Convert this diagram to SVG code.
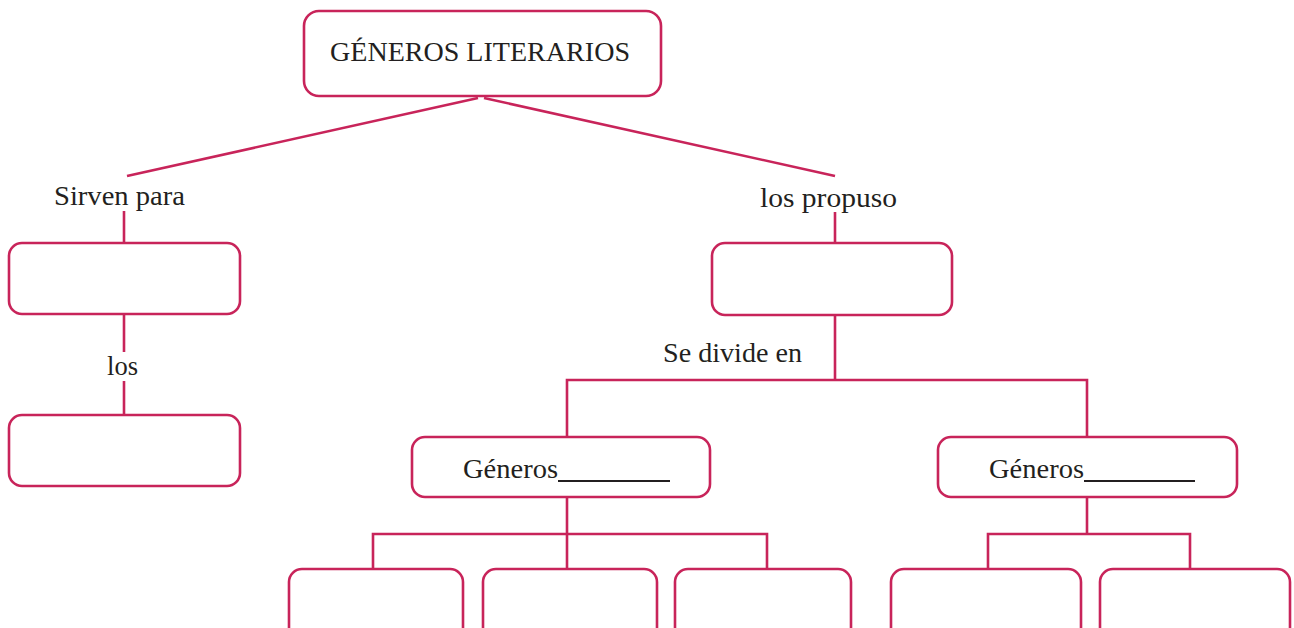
<svg xmlns="http://www.w3.org/2000/svg" width="1294" height="628" viewBox="0 0 1294 628">
<style>
.box{fill:#ffffff;stroke:#C8245A;stroke-width:2.6}
.ln{fill:none;stroke:#C8245A;stroke-width:2.6}
.t{font-family:"Liberation Serif","DejaVu Serif",serif;font-size:27px;fill:#231f20}
.u{stroke:#231f20;stroke-width:2}
</style>
<rect width="1294" height="628" fill="#ffffff"/>
<g id="connectors">
<line class="ln" x1="478" y1="98" x2="127" y2="176"/>
<line class="ln" x1="484" y1="98" x2="835" y2="176"/>
<line class="ln" x1="124" y1="211" x2="124" y2="243"/>
<line class="ln" x1="124" y1="314" x2="124" y2="352"/>
<line class="ln" x1="124" y1="381" x2="124" y2="415"/>
<line class="ln" x1="835" y1="212" x2="835" y2="243"/>
<line class="ln" x1="835" y1="315" x2="835" y2="381"/>
<polyline class="ln" points="567,437 567,380 1087,380 1087,437"/>
<line class="ln" x1="567" y1="497" x2="567" y2="568"/>
<polyline class="ln" points="373,568 373,534 767,534 767,568"/>
<line class="ln" x1="1087" y1="497" x2="1087" y2="534"/>
<polyline class="ln" points="988,568 988,534 1190,534 1190,568"/>
</g>
<g id="n-generos">
<rect class="box" x="304" y="11" width="357" height="85" rx="15"/>
<text class="t" x="330" y="61" textLength="300" lengthAdjust="spacingAndGlyphs">GÉNEROS LITERARIOS</text>
</g>
<g id="l-sirven"><text class="t" x="54" y="205" textLength="131" lengthAdjust="spacingAndGlyphs">Sirven para</text></g>
<g id="n-left1"><rect class="box" x="9" y="243" width="231" height="71" rx="13"/></g>
<g id="l-los"><text class="t" x="107" y="375" textLength="31" lengthAdjust="spacingAndGlyphs">los</text></g>
<g id="n-left2"><rect class="box" x="9" y="415" width="231" height="71" rx="13"/></g>
<g id="l-propuso"><text class="t" x="760" y="207" textLength="137" lengthAdjust="spacingAndGlyphs">los propuso</text></g>
<g id="n-right1"><rect class="box" x="712" y="243" width="240" height="72" rx="13"/></g>
<g id="l-divide"><text class="t" x="663" y="362" textLength="139" lengthAdjust="spacingAndGlyphs">Se divide en</text></g>
<g id="n-generos1">
<rect class="box" x="412" y="437" width="298" height="60" rx="13"/>
<text class="t" x="463" y="478" textLength="95" lengthAdjust="spacingAndGlyphs">Géneros</text>
<line class="u" x1="558" y1="481" x2="670" y2="481"/>
</g>
<g id="n-generos2">
<rect class="box" x="938" y="437" width="299" height="60" rx="13"/>
<text class="t" x="989" y="478" textLength="95" lengthAdjust="spacingAndGlyphs">Géneros</text>
<line class="u" x1="1084" y1="481" x2="1195" y2="481"/>
</g>
<g id="n-b1"><rect class="box" x="289" y="569" width="174" height="80" rx="13"/></g>
<g id="n-b2"><rect class="box" x="483" y="569" width="174" height="80" rx="13"/></g>
<g id="n-b3"><rect class="box" x="675" y="569" width="176" height="80" rx="13"/></g>
<g id="n-b4"><rect class="box" x="891" y="569" width="190" height="80" rx="13"/></g>
<g id="n-b5"><rect class="box" x="1100" y="569" width="190" height="80" rx="13"/></g>
</svg>
